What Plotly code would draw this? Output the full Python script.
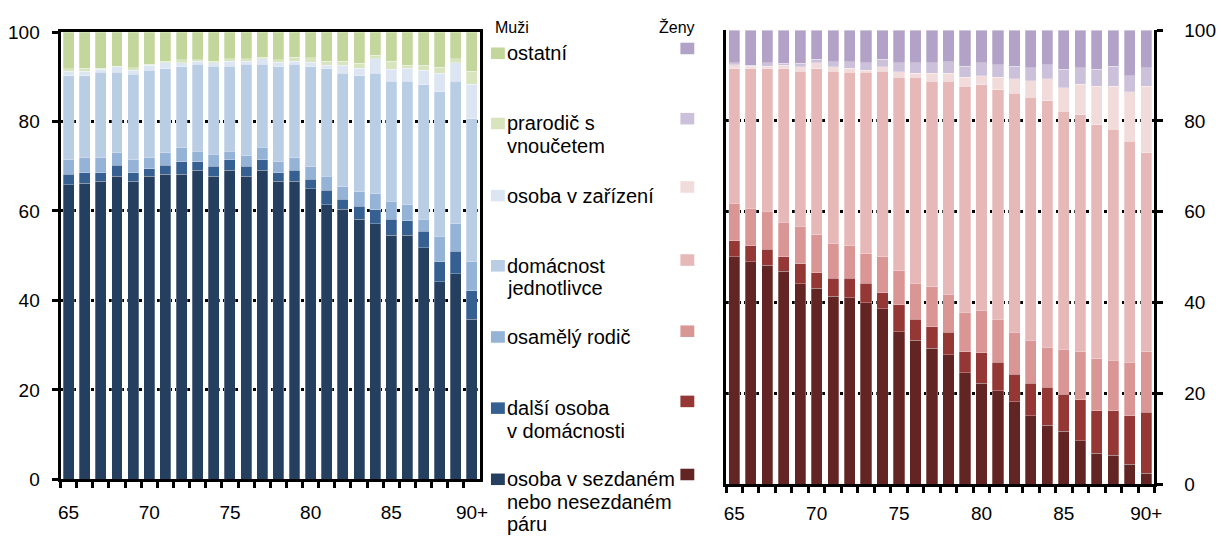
import plotly.graph_objects as go

# Age groups on the horizontal axis
ages = [str(a) for a in range(65, 90)] + ["90+"]
shown_ticks = ["65", "70", "75", "80", "85", "90+"]

# Household position categories, bottom to top of each stack
categories = [
    "osoba v sezdaném nebo nesezdaném páru",
    "další osoba v domácnosti",
    "osamělý rodič",
    "domácnost jednotlivce",
    "osoba v zařízení",
    "prarodič s vnoučetem",
    "ostatní",
]

# Men, shares in %
men_pair = [65.9, 66.2, 66.7, 67.8, 66.7, 67.8, 68.2, 68.2, 69.1, 67.8, 69.1, 67.8, 69.1,
            66.7, 66.7, 65.0, 61.4, 60.4, 58.2, 57.1, 54.6, 54.6, 51.8, 44.2, 46.0, 35.8]
men_other_member = [2.3, 2.4, 1.9, 2.4, 1.9, 1.7, 2.0, 2.8, 1.9, 2.2, 2.4, 2.2, 2.4,
                    1.9, 2.4, 2.1, 3.2, 2.2, 2.9, 3.2, 3.6, 3.2, 3.7, 4.5, 5.0, 6.4]
men_lone_parent = [3.3, 3.3, 3.3, 2.8, 2.9, 2.4, 2.8, 3.1, 2.4, 2.7, 1.9, 2.3, 2.7,
                   2.4, 2.8, 2.8, 3.2, 2.8, 3.2, 3.6, 4.0, 3.6, 2.7, 5.6, 6.1, 6.5]
men_single = [18.7, 18.3, 19.1, 18.0, 19.1, 19.6, 18.8, 18.1, 19.4, 19.7, 19.0, 20.5, 18.6,
              21.3, 20.9, 22.4, 24.0, 25.4, 25.9, 26.9, 26.8, 27.6, 30.0, 32.4, 31.9, 31.9]
men_institution = [1.1, 1.1, 0.7, 1.2, 0.9, 1.1, 1.3, 0.9, 0.7, 0.7, 1.1, 0.7, 1.2,
                   1.0, 0.7, 1.0, 0.8, 1.8, 1.7, 3.2, 2.7, 2.9, 3.3, 4.1, 4.1, 7.7]
men_grandparent = [0.5, 0.6, 0.2, 0.2, 0.5, 0.2, 0.4, 0.7, 0.3, 0.4, 0.5, 0.5, 0.4,
                   0.5, 0.9, 1.0, 0.9, 0.9, 1.1, 0.8, 1.8, 0.7, 1.1, 1.3, 0.9, 2.9]
men_other = [8.2, 8.1, 8.1, 7.6, 8.0, 7.2, 6.5, 6.2, 6.2, 6.5, 6.0, 6.0, 5.6,
             6.2, 5.6, 5.7, 6.5, 6.5, 7.0, 5.2, 6.5, 7.4, 7.4, 7.9, 6.0, 8.8]

# Women, shares in %
women_pair = [50.1, 49.0, 48.2, 46.9, 44.1, 43.1, 41.4, 41.1, 40.0, 38.6, 33.6, 31.7, 29.9,
              28.5, 24.5, 22.2, 20.6, 18.1, 15.1, 13.0, 11.6, 9.6, 6.8, 6.4, 4.4, 2.4]
women_other_member = [3.5, 3.5, 3.5, 3.2, 4.4, 3.5, 3.9, 4.2, 4.2, 3.6, 5.9, 4.6, 4.8,
                      5.0, 4.7, 6.7, 6.3, 6.1, 7.1, 8.3, 8.2, 9.0, 9.4, 9.8, 10.7, 13.4]
women_lone_parent = [8.3, 8.3, 8.4, 7.6, 8.3, 8.3, 7.6, 7.2, 6.6, 7.9, 7.5, 7.9, 8.8,
                     8.3, 8.7, 9.4, 9.4, 9.3, 9.5, 8.8, 9.9, 10.6, 11.4, 11.1, 11.8, 13.4]
women_single = [29.6, 30.7, 31.4, 33.8, 34.2, 36.6, 38.1, 38.2, 39.9, 40.9, 42.6, 45.4, 45.3,
                47.0, 49.7, 49.7, 50.6, 52.6, 53.5, 54.4, 52.4, 52.2, 51.6, 50.9, 48.6, 43.8]
women_institution = [0.9, 0.6, 0.6, 0.8, 0.9, 1.3, 0.9, 0.9, 0.5, 0.9, 1.3, 0.9, 1.7,
                     1.7, 2.0, 2.0, 2.7, 3.2, 3.7, 4.8, 5.2, 6.7, 8.5, 9.5, 10.9, 14.7]
women_grandparent = [0.4, 0.2, 0.7, 0.4, 0.8, 0.8, 1.2, 1.5, 1.6, 1.7, 1.9, 2.3, 2.3,
                     2.6, 2.5, 2.8, 2.8, 2.8, 2.8, 3.1, 4.1, 3.6, 3.7, 4.4, 3.6, 4.0]
women_other = [7.2, 7.7, 7.2, 7.3, 7.3, 6.4, 6.9, 6.9, 7.2, 6.4, 7.2, 7.2, 7.2,
               6.9, 7.9, 7.2, 7.6, 7.9, 8.3, 7.6, 8.6, 8.3, 8.6, 7.9, 10.0, 8.3]

men_series = [men_pair, men_other_member, men_lone_parent, men_single,
              men_institution, men_grandparent, men_other]
women_series = [women_pair, women_other_member, women_lone_parent, women_single,
                women_institution, women_grandparent, women_other]

men_colors = ["#253F61", "#376092", "#95B3D7", "#B9CDE5", "#DCE6F2", "#D7E4BD", "#C3D69B"]
women_colors = ["#632523", "#953735", "#D99694", "#E6B9B8", "#F2DCDB", "#CCC1DA", "#B3A2C7"]

# Legend labels (split into lines), top entry first
legend_lines = [
    ["ostatní"],
    ["prarodič s", "vnoučetem"],
    ["osoba v zařízení"],
    ["domácnost", "jednotlivce"],
    ["osamělý rodič"],
    ["další osoba", "v domácnosti"],
    ["osoba v sezdaném", "nebo nesezdaném", "páru"],
]

FONT = "Liberation Sans, Arial, sans-serif"
W, H = 1221, 548

fig = go.Figure()

for name, vals, col in zip(categories, men_series, men_colors):
    fig.add_trace(go.Bar(x=ages, y=vals, name=name, marker_color=col,
                         marker_line=dict(width=0.6, color="rgba(255,255,255,0.45)"),
                         xaxis="x", yaxis="y", showlegend=False))
for name, vals, col in zip(categories, women_series, women_colors):
    fig.add_trace(go.Bar(x=ages, y=vals, name=name, marker_color=col,
                         marker_line=dict(width=0.6, color="rgba(255,255,255,0.45)"),
                         xaxis="x2", yaxis="y2", showlegend=False))

tick_text = [a if a in shown_ticks else "" for a in ages]

common_x = dict(type="category", categoryorder="array", categoryarray=ages,
                tickmode="array", tickvals=ages, ticktext=tick_text, tickangle=0,
                tickson="boundaries", ticks="outside", ticklen=6, tickwidth=2.5,
                tickcolor="black", showline=True, linecolor="black", linewidth=3,
                showgrid=False, zeroline=False, range=[-0.5, 25.5],
                tickfont=dict(family=FONT, size=19, color="black"))
common_y = dict(range=[0, 100], tickvals=[0, 20, 40, 60, 80, 100],
                ticks="outside", ticklen=6, tickwidth=2.5, tickcolor="black",
                showline=True, linecolor="black", linewidth=3,
                showgrid=True, gridcolor="black", gridwidth=2.5, griddash="3px,3px",
                zeroline=False, tickfont=dict(family=FONT, size=19, color="black"))

def px_x(p):
    return p / W

def px_y(p):
    return 1 - p / H

fig.update_layout(
    width=W, height=H, autosize=False,
    margin=dict(l=0, r=0, t=0, b=0),
    paper_bgcolor="white", plot_bgcolor="white",
    barmode="stack", bargap=0.32,
    font=dict(family=FONT, color="black"),
    xaxis=dict(common_x, domain=[px_x(59), px_x(482)], anchor="y",
               mirror=True, ticklabelstandoff=14),
    yaxis=dict(common_y, domain=[px_y(488), px_y(23)], anchor="x",
               mirror=True, ticklabelstandoff=8),
    xaxis2=dict(common_x, domain=[px_x(730), px_x(1162)], anchor="y2",
                ticklabelstandoff=10),
    yaxis2=dict(common_y, domain=[px_y(493), px_y(21)], anchor="x2",
                side="right", mirror=True, ticklabelstandoff=17),
)

# Hand-built legend between the two panels
row_centers_men = [45, 118, 193, 266, 340, 414, 488]
row_centers_women = [40, 113, 184, 260, 334, 407, 483]
line_step = 23.5

shapes = []
annotations = [
    dict(text="Muži", x=px_x(495), y=px_y(18), xref="paper", yref="paper",
         xanchor="left", yanchor="middle", showarrow=False,
         font=dict(family=FONT, size=16, color="black")),
    dict(text="Ženy", x=px_x(701), y=px_y(18), xref="paper", yref="paper",
         xanchor="right", yanchor="middle", showarrow=False,
         font=dict(family=FONT, size=16, color="black")),
]
for i, lines in enumerate(legend_lines):
    k = len(categories) - 1 - i
    cm = row_centers_men[i]
    cw = row_centers_women[i]
    shapes.append(dict(type="rect", xref="paper", yref="paper",
                       x0=px_x(493), x1=px_x(507), y0=px_y(cm + 6), y1=px_y(cm - 6),
                       fillcolor=men_colors[k], line=dict(width=0)))
    shapes.append(dict(type="rect", xref="paper", yref="paper",
                       x0=px_x(684), x1=px_x(698), y0=px_y(cw + 6), y1=px_y(cw - 6),
                       fillcolor=women_colors[k], line=dict(width=0)))
    for j, ln in enumerate(lines):
        annotations.append(dict(text=ln, x=px_x(507), y=px_y(cm + j * line_step),
                                xref="paper", yref="paper", xanchor="left",
                                yanchor="middle", showarrow=False,
                                font=dict(family=FONT, size=20, color="black")))

fig.update_layout(shapes=shapes, annotations=annotations)

fig.write_html("out.html")
